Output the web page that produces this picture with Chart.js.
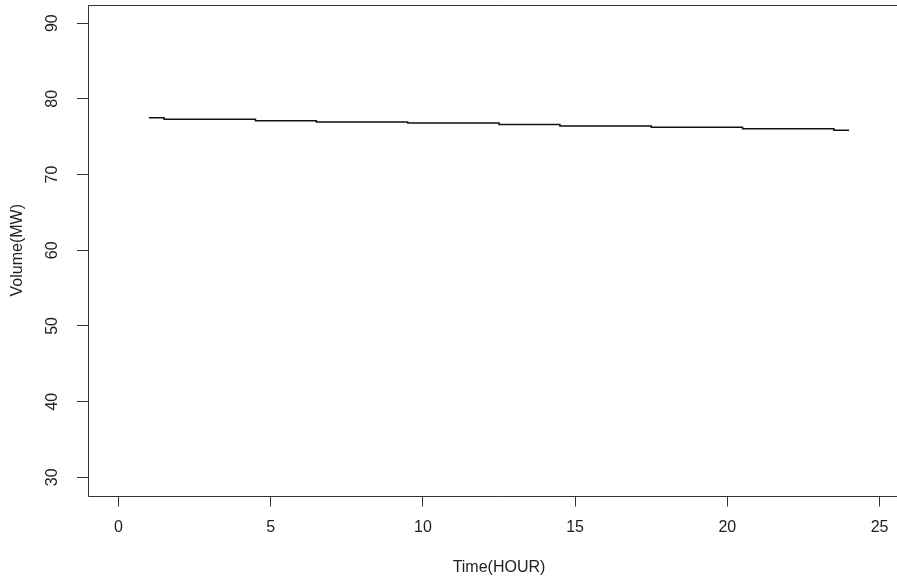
<!DOCTYPE html>
<html>
<head>
<meta charset="utf-8">
<script src="https://cdn.jsdelivr.net/npm/chart.js@4"></script>
<style>
  html, body { margin: 0; padding: 0; background: #fff; overflow: hidden; }
  #wrap { width: 912px; height: 580px; }
</style>
</head>
<body>
<div id="wrap"><canvas id="volumeChart"></canvas></div>
<script>
// hourly volume, drawn as an R style step line
const hours = [1, 1.5, 4.5, 6.5, 9.5, 12.5, 14.5, 17.5, 20.5, 23.5, 24];
const volume = [77.5, 77.3, 77.1, 76.95, 76.8, 76.6, 76.4, 76.25, 76.05, 75.85, 75.85];
const xTicks = [0, 5, 10, 15, 20, 25];
const yTicks = [30, 40, 50, 60, 70, 80, 90];

const FONT = '"Liberation Sans", Arial, sans-serif';

// box round the plot (right side runs off the page) + rotated y labels
const rStyle = {
  id: 'rStyle',
  afterDraw(chart) {
    const ctx = chart.ctx;
    const a = chart.chartArea;
    const l = Math.round(a.left) + 0.5, t = Math.round(a.top) + 0.5, b = Math.round(a.bottom) + 0.5;
    ctx.save();
    ctx.strokeStyle = '#333';
    ctx.lineWidth = 1;
    ctx.beginPath();
    ctx.moveTo(a.right + 5, t);
    ctx.lineTo(l, t);
    ctx.lineTo(l, b);
    ctx.lineTo(a.right + 5, b);
    ctx.stroke();

    const y = chart.scales.y;
    ctx.fillStyle = '#222';
    ctx.font = '16px ' + FONT;
    ctx.textAlign = 'center';
    ctx.textBaseline = 'middle';
    yTicks.forEach(function (v) {
      ctx.save();
      ctx.translate(53, y.getPixelForValue(v));
      ctx.rotate(-Math.PI / 2);
      ctx.fillText(String(v), 0, 0);
      ctx.restore();
    });
    ctx.restore();
  }
};

const ctx = document.getElementById('volumeChart').getContext('2d');
new Chart(ctx, {
  type: 'line',
  data: {
    datasets: [{
      data: hours.map(function (h, i) { return { x: h, y: volume[i] }; }),
      borderColor: '#111',
      borderWidth: 1.5,
      stepped: true,
      pointRadius: 0,
      fill: false
    }]
  },
  options: {
    responsive: true,
    maintainAspectRatio: false,
    animation: false,
    layout: { padding: { top: 5, right: 2, left: 0, bottom: 0 } },
    plugins: {
      legend: { display: false },
      tooltip: { enabled: false }
    },
    scales: {
      x: {
        type: 'linear',
        min: -1,
        max: 26,
        afterBuildTicks: function (s) { s.ticks = xTicks.map(function (v) { return { value: v }; }); },
        afterFit: function (s) { s.height = 84.5; },
        border: { display: false },
        grid: { drawOnChartArea: false, drawTicks: true, tickLength: 11, color: '#333', lineWidth: 1 },
        ticks: { color: '#222', font: { family: FONT, size: 16 }, padding: 11, maxRotation: 0, autoSkip: false },
        title: { display: true, text: 'Time(HOUR)', color: '#222', font: { family: FONT, size: 16 }, padding: { top: 0, bottom: 3 } }
      },
      y: {
        min: 27.6,
        max: 92.4,
        afterBuildTicks: function (s) { s.ticks = yTicks.map(function (v) { return { value: v }; }); },
        afterFit: function (s) { s.width = 88; },
        border: { display: false },
        grid: { drawOnChartArea: false, drawTicks: true, tickLength: 11, color: '#333', lineWidth: 1 },
        ticks: { display: false },
        title: { display: true, text: 'Volume(MW)', color: '#222', font: { family: FONT, size: 16 }, padding: { top: 8, bottom: 0 } }
      }
    }
  },
  plugins: [rStyle]
});
</script>
</body>
</html>
